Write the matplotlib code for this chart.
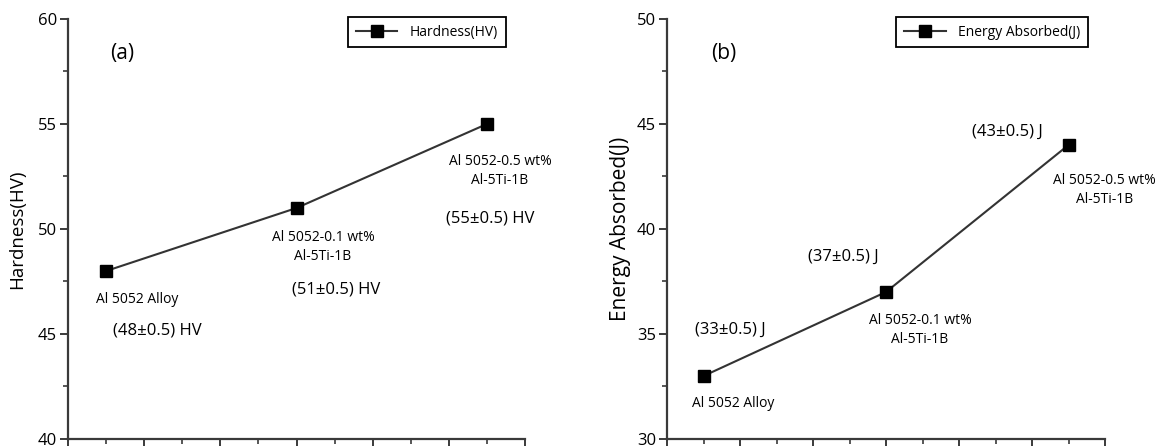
import numpy as np
import matplotlib
matplotlib.use("Agg")
import matplotlib.pyplot as plt
from matplotlib.ticker import MultipleLocator

plt.rcParams['font.family'] = ['Open Sans', 'DejaVu Sans']

# data
samples = ['Al 5052 Alloy', 'Al 5052-0.1 wt%\nAl-5Ti-1B', 'Al 5052-0.5 wt%\nAl-5Ti-1B']
x_pos = [1, 2, 3]
hardness = [48, 51, 55]
hardness_txt = ['(48\u00b10.5) HV', '(51\u00b10.5) HV', '(55\u00b10.5) HV']
energy = [33, 37, 44]
energy_txt = ['(33\u00b10.5) J', '(37\u00b10.5) J', '(43\u00b10.5) J']

AX_COL = '#3a3a3a'
LN_COL = '#333333'

fig = plt.figure(figsize=(11.56, 4.46), dpi=100)
# axes boxes in figure fraction (pixel measurements / figure size)
axA = fig.add_axes([68/1156, 1-439/446, (525-68)/1156, 420/446])
axB = fig.add_axes([667/1156, 1-439/446, (1105-667)/1156, 420/446])


def style_axis(ax, ylo, yhi, ylabel, lsize, lpad):
    ax.set_xlim(0.8, 3.2)
    ax.set_ylim(ylo, yhi)
    ax.xaxis.set_major_locator(MultipleLocator(0.4))
    ax.xaxis.set_minor_locator(MultipleLocator(0.2))
    ax.yaxis.set_major_locator(MultipleLocator(5))
    ax.yaxis.set_minor_locator(MultipleLocator(2.5))
    for s in ['top', 'right']:
        ax.spines[s].set_visible(False)
    for s in ['left', 'bottom']:
        ax.spines[s].set_color(AX_COL)
        ax.spines[s].set_linewidth(1.6)
    ax.tick_params(axis='both', which='major', direction='out', length=6, width=1.4,
                   color=AX_COL, labelsize=12, pad=2)
    ax.tick_params(axis='both', which='minor', direction='out', length=3.5, width=1.2,
                   color=AX_COL)
    ax.tick_params(axis='x', which='both', labelbottom=False)
    ax.set_ylabel(ylabel, fontsize=lsize, labelpad=lpad)


def add_legend(ax, right):
    lg = ax.legend(loc='upper right', bbox_to_anchor=(right, 1.005), fontsize=10,
                   fancybox=False, framealpha=1, edgecolor='black', handlelength=3.0,
                   handletextpad=0.9, borderpad=0.55, borderaxespad=0)
    lg.get_frame().set_linewidth(1.3)
    return lg


# (a) hardness
axA.plot(x_pos, hardness, color=LN_COL, lw=1.5, marker='s', ms=8, mfc='black', mec='black',
         label='Hardness(HV)', clip_on=False)
style_axis(axA, 40, 60, 'Hardness(HV)', 13.5, 8)
axA.text(1.084, 58.38, '(a)', fontsize=15, ha='center', va='center')
axA.text(1.162, 46.62, samples[0], fontsize=10, ha='center', va='center')
axA.text(2.139, 49.14, samples[1], fontsize=10, ha='center', va='center', linespacing=1.3)
axA.text(3.069, 52.76, samples[2], fontsize=10, ha='center', va='center', linespacing=1.3,
         clip_on=False)
axA.text(1.267, 45.19, hardness_txt[0], fontsize=12, ha='center', va='center')
axA.text(2.208, 47.14, hardness_txt[1], fontsize=12, ha='center', va='center')
axA.text(3.016, 50.52, hardness_txt[2], fontsize=12, ha='center', va='center')
add_legend(axA, 0.958)

# (b) energy absorbed
axB.plot(x_pos, energy, color=LN_COL, lw=1.5, marker='s', ms=8, mfc='black', mec='black',
         label='Energy Absorbed(J)', clip_on=False)
style_axis(axB, 30, 50, 'Energy Absorbed(J)', 15, 4)
axB.text(1.112, 48.38, '(b)', fontsize=15, ha='center', va='center')
axB.text(1.162, 31.67, samples[0], fontsize=10, ha='center', va='center')
axB.text(2.186, 35.19, samples[1], fontsize=10, ha='center', va='center', linespacing=1.3)
axB.text(3.195, 41.86, samples[2], fontsize=10, ha='center', va='center', linespacing=1.3,
         clip_on=False)
axB.text(1.145, 35.19, energy_txt[0], fontsize=12, ha='center', va='center')
axB.text(1.764, 38.67, energy_txt[1], fontsize=12, ha='center', va='center')
axB.text(2.663, 44.62, energy_txt[2], fontsize=12, ha='center', va='center')
add_legend(axB, 0.961)

fig.savefig('out.png', dpi=100)
